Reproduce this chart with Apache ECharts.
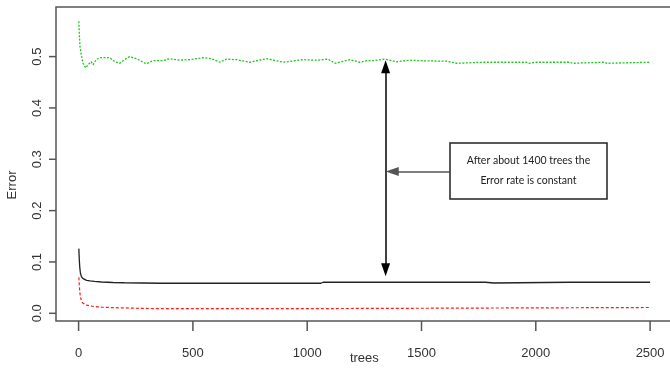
<!DOCTYPE html>
<html>
<head>
<meta charset="utf-8">
<script src="https://cdn.jsdelivr.net/npm/echarts@6/dist/echarts.min.js"></script>
<style>
  html, body { margin: 0; padding: 0; background: #fff; }
  #main { width: 670px; height: 369px; }
</style>
</head>
<body>
<div id="main"></div>
<script>
// tick values
var xTicks = [0, 500, 1000, 1500, 2000, 2500];
var yTicks = [0, 0.1, 0.2, 0.3, 0.4, 0.5];

// OOB error (black, solid)
var blackTrees = [1, 3, 5, 8, 12, 18, 25, 35, 50, 70, 100, 150, 200, 280, 360, 440, 520, 600, 700, 800, 900, 1000, 1060, 1070, 1115, 1120, 1126, 1648, 1652, 1660, 1780, 1784, 1816, 1820, 2150, 2153, 2162, 2500];
var blackErr = [0.126, 0.105, 0.090, 0.078, 0.072, 0.068, 0.066, 0.064, 0.063, 0.062, 0.061, 0.060, 0.0595, 0.059, 0.0585, 0.0588, 0.0585, 0.0587, 0.0585, 0.0586, 0.0585, 0.0587, 0.0585, 0.0605, 0.0605, 0.0590, 0.0605, 0.0605, 0.0592, 0.0605, 0.0605, 0.0590, 0.0590, 0.0605, 0.0605, 0.0592, 0.0605, 0.0605];

// class 1 error (red, dashed)
var redTrees = [1, 3, 5, 8, 12, 18, 25, 35, 50, 70, 100, 150, 200, 280, 400, 600, 800, 1000, 1065, 1070, 2500];
var redErr = [0.070, 0.055, 0.042, 0.032, 0.025, 0.020, 0.018, 0.016, 0.0145, 0.013, 0.012, 0.011, 0.0105, 0.0095, 0.009, 0.009, 0.009, 0.0092, 0.0092, 0.0113, 0.0113];

// class 2 error (green, dotted)
var greenTrees = [1, 2, 4, 6, 12, 19, 31, 41, 55, 63, 77, 92, 136, 158, 180, 201, 223, 253, 296, 325, 369, 398, 442, 486, 544, 581, 617, 647, 690, 749, 822, 895, 982, 1041, 1092, 1121, 1187, 1230, 1260, 1289, 1340, 1391, 1449, 1493, 1610, 1654, 1770, 1843, 1960, 1970, 2000, 2150, 2160, 2300, 2310, 2500];
var greenErr = [0.569, 0.556, 0.536, 0.520, 0.503, 0.487, 0.478, 0.484, 0.490, 0.484, 0.494, 0.498, 0.498, 0.490, 0.487, 0.494, 0.500, 0.496, 0.486, 0.492, 0.492, 0.496, 0.493, 0.494, 0.498, 0.496, 0.489, 0.495, 0.494, 0.489, 0.496, 0.489, 0.494, 0.493, 0.495, 0.487, 0.494, 0.489, 0.492, 0.492, 0.495, 0.490, 0.493, 0.492, 0.491, 0.487, 0.489, 0.489, 0.489, 0.487, 0.489, 0.489, 0.487, 0.489, 0.487, 0.489];

// annotation
var noteText = "After about 1400 trees the\nError rate is constant";
var arrowTree = 1343;

function pairs(xs, ys) {
  var out = [];
  for (var i = 0; i < xs.length; i++) out.push([xs[i], ys[i]]);
  return out;
}

var myChart = echarts.init(document.getElementById("main"));
var fontFam = "'Liberation Sans', Arial, sans-serif";
var axisGray = "#555";
var textStyle = { color: "#333", fontSize: 13, fontFamily: fontFam };

var option = {
  animation: false,
  grid: [
    // plot box (R style, extends 4% past the data)
    { left: 56, right: -3, top: 7, bottom: 48, outerBoundsMode: "none",
      show: true, borderColor: axisGray, borderWidth: 1.5 },
    // data area: 0..2500 trees, 0..0.5 error
    { left: 78.6, right: 19.9, top: 56.6, bottom: 55.7, outerBoundsMode: "none" },
    // x labels below the box
    { left: 78.6, right: 19.9, top: 56.6, bottom: 38, outerBoundsMode: "none" },
    // y labels left of the box
    { left: 49, right: 19.9, top: 56.6, bottom: 55.7, outerBoundsMode: "none" }
  ],
  xAxis: [
    { gridIndex: 0, type: "value", min: 0, max: 1, show: false },
    { gridIndex: 1, type: "value", min: 0, max: 2500, show: false },
    {
      gridIndex: 2, type: "value",
      min: 0, max: 2500, interval: 500,
      name: "trees", nameLocation: "middle", nameGap: 21, nameMoveOverlap: false,
      nameTextStyle: textStyle,
      axisLine: { show: false, onZero: false },
      splitLine: { show: false },
      axisTick: { show: false },
      axisLabel: { margin: 16, color: "#333", fontSize: 13, fontFamily: fontFam,
        formatter: function (v) { return String(v); } }
    },
    { gridIndex: 3, type: "value", min: 0, max: 1, show: false }
  ],
  yAxis: [
    { gridIndex: 0, type: "value", min: 0, max: 1, show: false },
    { gridIndex: 1, type: "value", min: 0, max: 0.5, show: false },
    { gridIndex: 2, type: "value", min: 0, max: 1, show: false },
    {
      gridIndex: 3, type: "value",
      min: 0, max: 0.5, interval: 0.1,
      name: "Error", nameLocation: "middle", nameGap: 30, nameRotate: 90, nameMoveOverlap: false,
      nameTextStyle: textStyle,
      axisLine: { show: false, onZero: false },
      splitLine: { show: false },
      axisTick: { show: false },
      axisLabel: { rotate: 90, margin: 5.5, color: "#333", fontSize: 13, fontFamily: fontFam,
        formatter: function (v) { return v.toFixed(1); } }
    }
  ],
  graphic: {
    elements: [
      {
        id: "noteBox", type: "rect",
        shape: { x: 450, y: 143, width: 157, height: 56 },
        style: { fill: "#fff", stroke: "#222", lineWidth: 1.5 },
        z: 10
      },
      {
        id: "noteText", type: "text",
        x: 528.5, y: 171,
        style: {
          text: noteText, align: "center", verticalAlign: "middle",
          fill: "#222", font: "10.5px Lato, 'Open Sans', sans-serif", lineHeight: 20
        },
        z: 11
      }
    ]
  },
  series: [
    {
      name: "green", type: "line", showSymbol: false, clip: false,
      xAxisIndex: 1, yAxisIndex: 1,
      data: pairs(greenTrees, greenErr),
      itemStyle: { color: "#1ec81e" },
      lineStyle: { color: "#1ec81e", width: 1.3, type: [2, 1.5] }
    },
    {
      name: "OOB", type: "line", showSymbol: false, clip: false,
      xAxisIndex: 1, yAxisIndex: 1,
      data: pairs(blackTrees, blackErr),
      itemStyle: { color: "#222" },
      lineStyle: { color: "#222", width: 1.3 }
    },
    {
      name: "red", type: "line", showSymbol: false, clip: false,
      xAxisIndex: 1, yAxisIndex: 1,
      data: pairs(redTrees, redErr),
      itemStyle: { color: "#ff1a1a" },
      lineStyle: { color: "#ff1a1a", width: 1.2, type: [3, 2] }
    },
    {
      name: "note", type: "line", data: [],
      xAxisIndex: 1, yAxisIndex: 1,
      markLine: {
        silent: true,
        label: { show: false },
        emphasis: { disabled: true },
        data: [
          [
            { coord: [arrowTree, 0.480], symbol: "triangle", symbolSize: [9, 13], lineStyle: { color: "#000", width: 1.5, type: "solid" } },
            { coord: [arrowTree, 0.085], symbol: "triangle", symbolSize: [9, 13] }
          ],
          [
            { coord: [1623, 0.276], symbol: "none", lineStyle: { color: "#555", width: 1.5, type: "solid" } },
            { coord: [1372, 0.276], symbol: "triangle", symbolSize: [9, 13] }
          ]
        ]
      }
    }
  ]
};

myChart.setOption(option);

// tick marks outside the box, placed through the data axes' own scales
var boxBottom = 321, boxLeft = 56;
var tickEls = [];
xTicks.forEach(function (t, i) {
  var px = myChart.convertToPixel({ xAxisIndex: 1 }, t);
  tickEls.push({
    id: "xt" + i, type: "line",
    shape: { x1: px, y1: boxBottom, x2: px, y2: boxBottom + 10 },
    style: { stroke: axisGray, lineWidth: 1.5 }
  });
});
yTicks.forEach(function (t, i) {
  var py = myChart.convertToPixel({ yAxisIndex: 1 }, t);
  tickEls.push({
    id: "yt" + i, type: "line",
    shape: { x1: boxLeft - 7, y1: py, x2: boxLeft, y2: py },
    style: { stroke: axisGray, lineWidth: 1.5 }
  });
});
myChart.setOption({ graphic: { elements: tickEls } });
</script>
</body>
</html>
